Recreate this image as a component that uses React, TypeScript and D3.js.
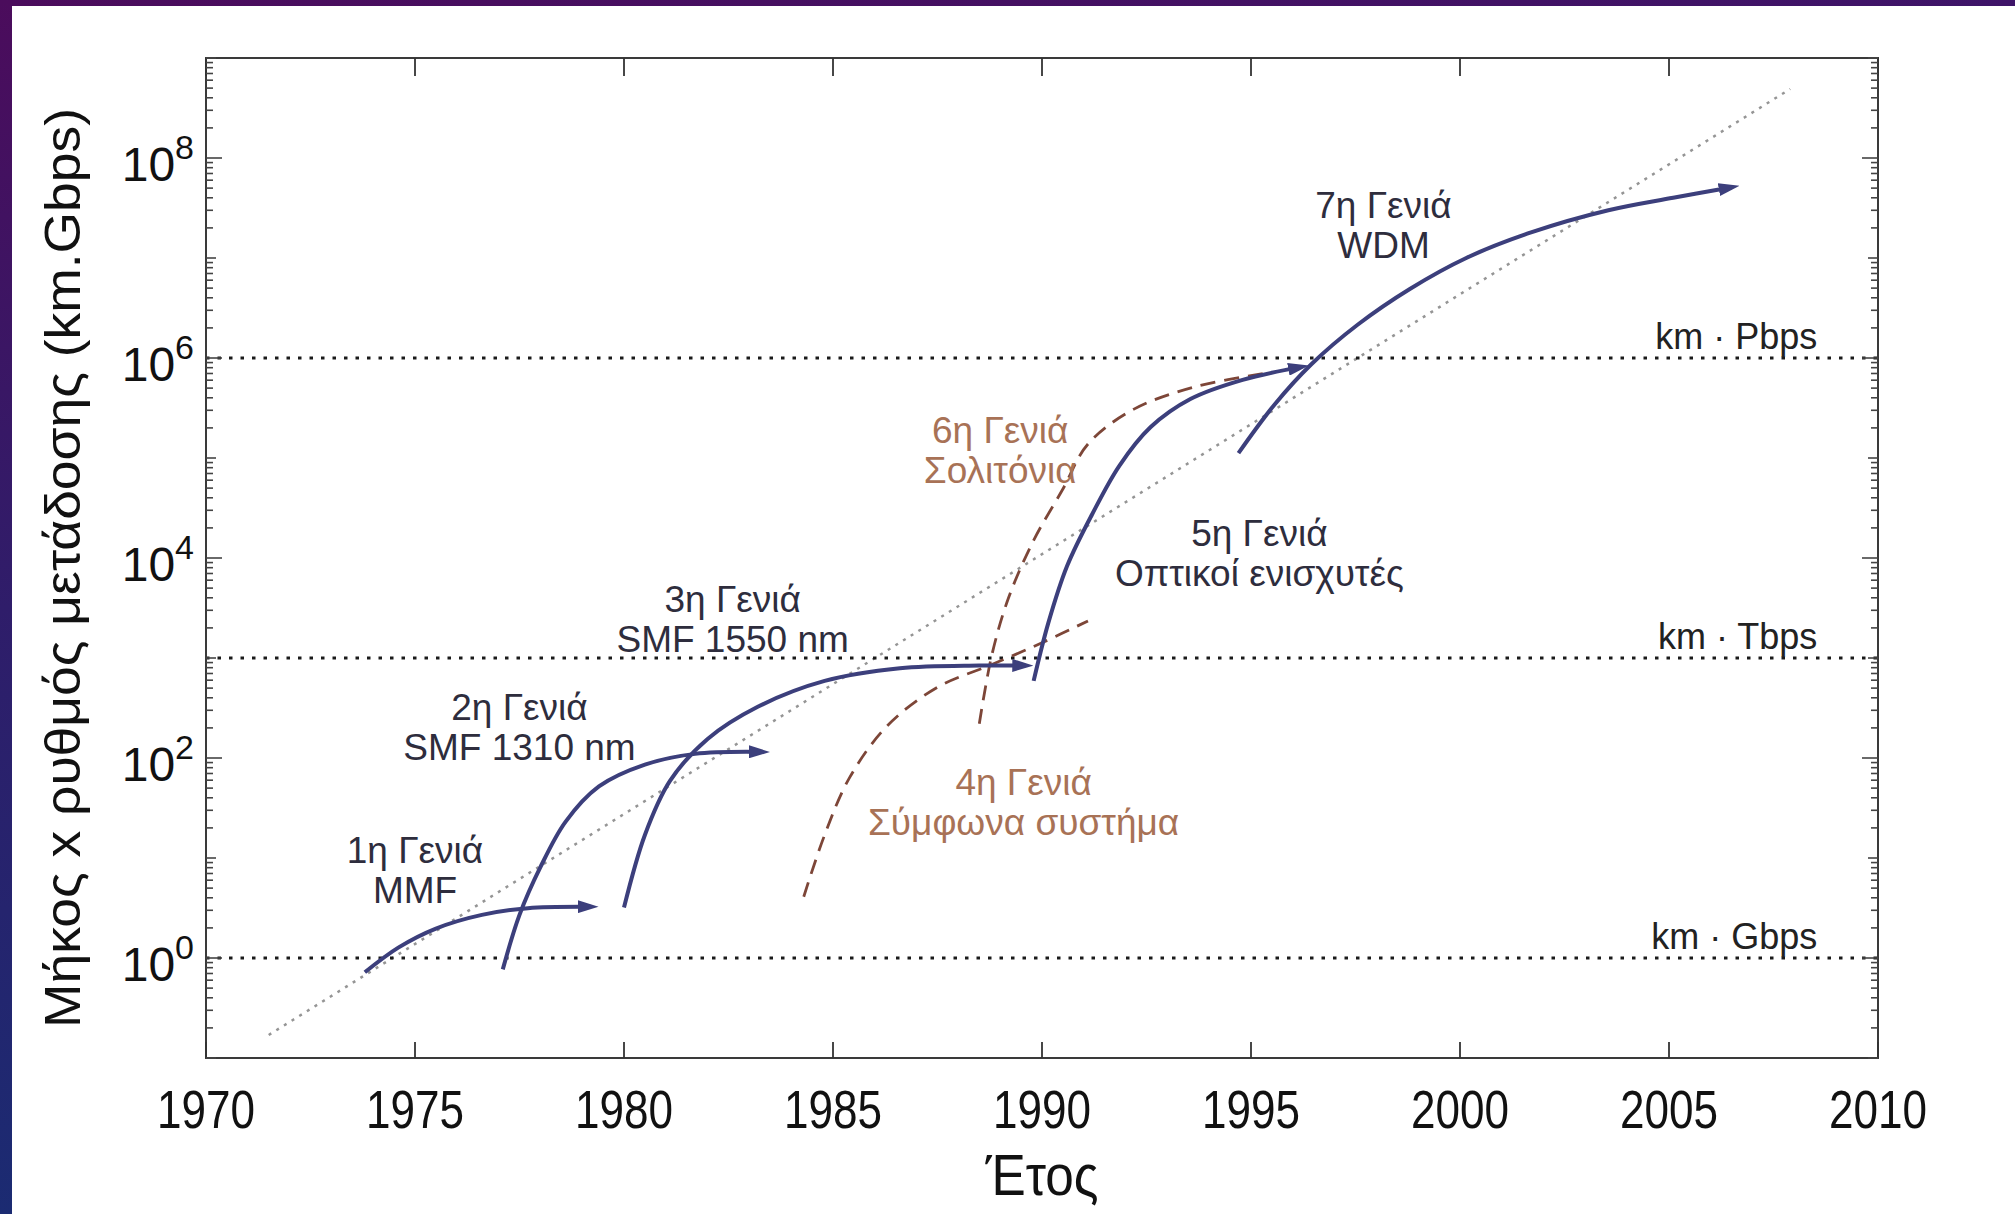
import React from "react";
import * as d3 from "d3";

const W = 2015;
const H = 1214;

// axes
const yearTicks = [1970, 1975, 1980, 1985, 1990, 1995, 2000, 2005, 2010];
const labelExponents = [0, 2, 4, 6, 8];

// reference lines (km·Gbps)
const refValues = [1, 1e3, 1e6];
const refLabels = ["km · Gbps", "km · Tbps", "km · Pbps"];

// dotted trend line
const trend: [number, number][] = [[1971.5, 0.17], [2007.9, 4.9e8]];

// generations, [year, km·Gbps]
const gen1: [number, number][] = [[1973.8, 0.72], [1974.6, 1.27], [1975.5, 1.97], [1976.6, 2.7], [1977.7, 3.15], [1979.2, 3.25]];
const gen2: [number, number][] = [[1977.1, 0.77], [1977.5, 2.7], [1978.0, 8.1], [1978.6, 23], [1979.4, 52], [1980.5, 86], [1981.7, 110], [1983.3, 115]];
const gen3: [number, number][] = [[1980.0, 3.2], [1980.5, 17], [1981.1, 59], [1982.0, 155], [1983.2, 325], [1984.8, 590], [1986.6, 790], [1988.5, 840], [1989.6, 840]];
const gen4: [number, number][] = [[1984.3, 4.1], [1984.8, 17], [1985.4, 64], [1986.3, 210], [1987.5, 510], [1988.8, 860], [1990.0, 1420], [1991.1, 2350]];
const gen5: [number, number][] = [[1989.8, 590], [1990.15, 2230], [1990.6, 8300], [1991.2, 27400], [1991.85, 83600], [1992.6, 2.04e5], [1993.55, 3.89e5], [1994.8, 6.05e5], [1996.2, 8.15e5]];
const gen6: [number, number][] = [[1988.5, 220], [1988.8, 1070], [1989.2, 4000], [1989.8, 15000], [1990.5, 49000], [1991.1, 1.38e5], [1992.2, 3.08e5], [1993.7, 5.2e5], [1995.5, 7.2e5]];
const gen7: [number, number][] = [[1994.7, 1.12e5], [1995.55, 3.37e5], [1996.45, 8.7e5], [1997.55, 2.15e6], [1998.8, 4.9e6], [2000.15, 1.0e7], [2001.7, 1.8e7], [2003.55, 3.0e7], [2005.1, 4.0e7], [2006.5, 5.1e7]];

const solidSeries = [gen1, gen2, gen3, gen5, gen7];
const dashedSeries = [gen4, gen6];

// annotation texts: [year, value] centre of each block
const genNames = ["1η Γενιά", "2η Γενιά", "3η Γενιά", "4η Γενιά", "5η Γενιά", "6η Γενιά", "7η Γενιά"];
const genTech = ["MMF", "SMF 1310 nm", "SMF 1550 nm", "Σύμφωνα συστήμα", "Οπτικοί ενισχυτές", "Σολιτόνια", "WDM"];
const genAnchor: [number, number][] = [[1975.0, 7.6], [1977.5, 204], [1982.6, 2450], [1989.56, 36], [1995.2, 11200], [1989.0, 1.2e5], [1998.17, 2.14e7]];
const genCoherent = [false, false, false, true, false, true, false];

const navy = "#3c3f7c";
const brownLine = "#7d4638";
const brownText = "#a87256";
const darkText = "#2e2d3d";
const font = "'Liberation Sans', Arial, sans-serif";

export default function App() {
  const x = d3.scaleLinear().domain([1970, 2010]).range([206, 1878]);
  const y = d3.scaleLog().domain([0.1, 1e9]).range([1058, 58]);
  const [x0, x1] = x.range();
  const [y0, y1] = y.range();

  const line = d3
    .line<[number, number]>()
    .x((d) => x(d[0]))
    .y((d) => y(d[1]))
    .curve(d3.curveCatmullRom.alpha(0.5));

  // log ticks on the y axis
  let yTicks: { v: number; len: number }[] = [];
  for (let e = -1; e <= 9; e++) {
    for (let m = 1; m <= 9; m++) {
      const v = m * Math.pow(10, e);
      if (v < 0.1 || v > 1e9) continue;
      let len = 7;
      if (m == 1) len = e % 2 == 0 ? 16 : 10;
      yTicks.push({ v, len });
    }
  }

  return (
    <svg
      width={W}
      height={H}
      style={{ position: "absolute", left: 0, top: 0, display: "block" }}
      fontFamily={font}
    >
      <defs>
        <linearGradient id="leftBand" x1="0" y1="0" x2="0" y2="1">
          <stop offset="0" stopColor="#4b0c5c" />
          <stop offset="0.5" stopColor="#2f1d6a" />
          <stop offset="1" stopColor="#1b2b72" />
        </linearGradient>
        <linearGradient id="topBand" x1="0" y1="0" x2="1" y2="0">
          <stop offset="0" stopColor="#4b0c5c" />
          <stop offset="1" stopColor="#3e1468" />
        </linearGradient>
        <marker
          id="arrow"
          viewBox="0 0 21 13"
          refX={13}
          refY={6.5}
          markerWidth={21}
          markerHeight={13}
          markerUnits="userSpaceOnUse"
          orient="auto"
        >
          <path d="M0,0 L21,6.5 L0,13 Z" fill={navy} />
        </marker>
      </defs>

      <rect width={W} height={H} fill="#fff" />
      <rect x={0} y={0} width={W} height={6} fill="url(#topBand)" />
      <rect x={0} y={0} width={12} height={H} fill="url(#leftBand)" />

      {/* trend */}
      <path
        d={line(trend) || ""}
        fill="none"
        stroke="#959595"
        strokeWidth={2.5}
        strokeDasharray="3 6"
      />

      {/* reference lines */}
      {refValues.map((v, i) => (
        <g key={v}>
          <line
            x1={x0}
            x2={x1}
            y1={y(v)}
            y2={y(v)}
            stroke="#1a1a1a"
            strokeWidth={2.8}
            strokeDasharray="3.5 8"
          />
          <text
            x={x(2008.55)}
            y={y(v) - 9}
            textAnchor="end"
            fontSize={36}
            fill="#222"
          >
            {refLabels[i]}
          </text>
        </g>
      ))}

      {/* generation curves */}
      {dashedSeries.map((s, i) => (
        <path
          key={"d" + i}
          d={line(s) || ""}
          fill="none"
          stroke={brownLine}
          strokeWidth={2.8}
          strokeDasharray="15 9"
        />
      ))}
      {solidSeries.map((s, i) => (
        <path
          key={"s" + i}
          d={line(s) || ""}
          fill="none"
          stroke={navy}
          strokeWidth={4}
          markerEnd="url(#arrow)"
        />
      ))}

      {/* generation labels */}
      {genNames.map((name, i) => {
        const cx = x(genAnchor[i][0]);
        const cy = y(genAnchor[i][1]);
        const fill = genCoherent[i] ? brownText : darkText;
        return (
          <text key={name} textAnchor="middle" fontSize={37} fill={fill}>
            <tspan x={cx} y={cy - 7}>
              {name}
            </tspan>
            <tspan x={cx} y={cy + 33}>
              {genTech[i]}
            </tspan>
          </text>
        );
      })}

      {/* frame */}
      <rect
        x={x0}
        y={y1}
        width={x1 - x0}
        height={y0 - y1}
        fill="none"
        stroke="#3a3a3a"
        strokeWidth={2}
      />

      {/* x ticks */}
      {yearTicks.map((t) => (
        <g key={t}>
          <line x1={x(t)} x2={x(t)} y1={y0} y2={y0 - 16} stroke="#333" strokeWidth={1.8} />
          <line x1={x(t)} x2={x(t)} y1={y1} y2={y1 + 18} stroke="#333" strokeWidth={1.8} />
          <text
            x={x(t)}
            y={1128}
            textAnchor="middle"
            fontSize={53}
            textLength={98}
            lengthAdjust="spacingAndGlyphs"
            fill="#111"
          >
            {t}
          </text>
        </g>
      ))}

      {/* y ticks */}
      {yTicks.map((t, i) => (
        <g key={i}>
          <line x1={x0} x2={x0 + t.len} y1={y(t.v)} y2={y(t.v)} stroke="#444" strokeWidth={1.6} />
          <line x1={x1} x2={x1 - t.len} y1={y(t.v)} y2={y(t.v)} stroke="#444" strokeWidth={1.6} />
        </g>
      ))}
      {labelExponents.map((e) => (
        <text key={e} x={194} y={y(Math.pow(10, e)) + 23} textAnchor="end" fontSize={48} fill="#111">
          10
          <tspan dy={-22} fontSize={34}>
            {e}
          </tspan>
        </text>
      ))}

      {/* axis titles */}
      <text
        transform={`translate(80,${(y0 + y1) / 2 + 10}) rotate(-90)`}
        textAnchor="middle"
        fontSize={50}
        textLength={920}
        lengthAdjust="spacingAndGlyphs"
        fill="#111"
      >
        Μήκος x ρυθμός μετάδοσης (km.Gbps)
      </text>
      <text
        x={(x0 + x1) / 2}
        y={1195}
        textAnchor="middle"
        fontSize={58}
        textLength={113}
        lengthAdjust="spacingAndGlyphs"
        fill="#111"
      >
        Έτος
      </text>
    </svg>
  );
}
